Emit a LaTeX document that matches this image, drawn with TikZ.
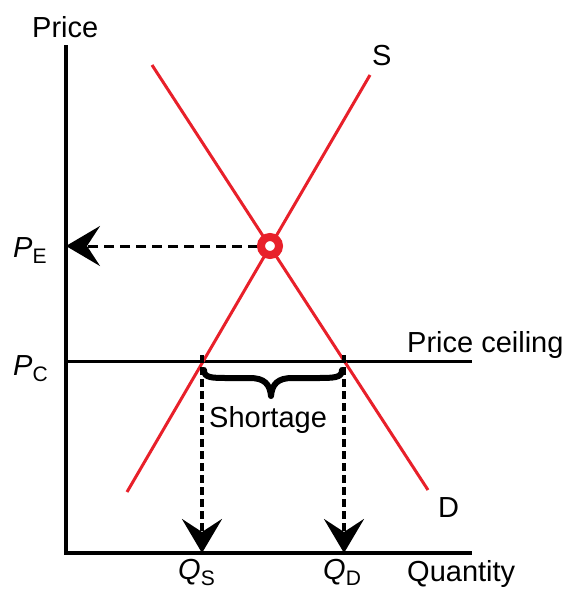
\documentclass[tikz,border=0pt]{standalone}
\usepackage{fontspec}
\setmainfont{Liberation Sans}
\usetikzlibrary{arrows.meta}
\definecolor{curvered}{HTML}{E8202A}
\newcommand{\mysub}[1]{\raisebox{-6pt}{\fontsize{21}{21}\selectfont #1}}
\begin{document}
\begin{tikzpicture}[x=1pt,y=-1pt,
  lbl/.style={font=\fontsize{29}{31}\selectfont, inner sep=0pt, anchor=base west},
  axis/.style={line width=4pt},
  curve/.style={draw=curvered, line width=3pt},
  hdash/.style={line width=3pt, dash pattern=on 10pt off 6pt},
  vdash/.style={line width=4pt, dash pattern=on 8pt off 4pt},
  tip/.style={-{Stealth[length=34pt,width=40pt,inset=13pt]}},
  bracestyle/.style={line width=6pt, line cap=round, line join=round}
]
\useasboundingbox (0,0) rectangle (569,589);
% axes
\coordinate (top) at (66,45);
\coordinate (origin) at (66,553);
\coordinate (xend) at (472,553);
\draw[axis] (top) -- (origin) -- (xend);
% price ceiling
\coordinate (pcl) at (66,361);
\coordinate (pcr) at (472,361);
\draw[line width=3pt] (pcl) -- (pcr);
% curves
\coordinate (s0) at (127,492);
\coordinate (s1) at (370,75);
\coordinate (d0) at (152,65);
\coordinate (d1) at (428,490);
\draw[curve] (s0) -- (s1);
\draw[curve] (d0) -- (d1);
% key points
\coordinate (eq) at (270,246);
\coordinate (qs) at (202,361);
\coordinate (qd) at (344,361);
\coordinate (pe) at (66,246);
\coordinate (qsb) at (202,553);
\coordinate (qdb) at (344,553);
% dashed arrows
\draw[hdash,tip] ([xshift=-12pt]eq) -- (pe);
\draw[vdash,tip] ([yshift=6pt]qs) -- (qsb);
\draw[vdash,tip] ([yshift=6pt]qd) -- (qdb);
% equilibrium marker
\draw[draw=curvered, line width=8pt, fill=white] (eq) circle (9pt);
% brace
\coordinate (bl) at (204,370);
\coordinate (bm) at (271,396);
\coordinate (br) at (342,370);
\draw[bracestyle] (bl) .. controls (204,378) and (212,378) .. (228,378)
  -- (250,378) .. controls (264,378) and (270,384) .. (bm)
  .. controls (272,384) and (278,378) .. (292,378)
  -- (316,378) .. controls (334,378) and (342,378) .. (br);
% labels
\node[lbl] (price) at (32,37) {Price};
\node[lbl] (slab) at (372,65) {S};
\node[lbl] (dlab) at (438,517) {D};
\node[lbl] (pclab) at (407,352) {Price ceiling};
\node[lbl] (qlab) at (407,581) {Quantity};
\node[lbl] (short) at (209,427) {Shortage};
\node[lbl] (pelab) at (13,257) {\textit{P}\mysub{E}};
\node[lbl] (pcLab) at (13,375) {\textit{P}\mysub{C}};
\node[lbl] (qslab) at (178,579) {\textit{Q}\mysub{S}};
\node[lbl] (qdlab) at (323,579) {\textit{Q}\mysub{D}};
\end{tikzpicture}
\end{document}
